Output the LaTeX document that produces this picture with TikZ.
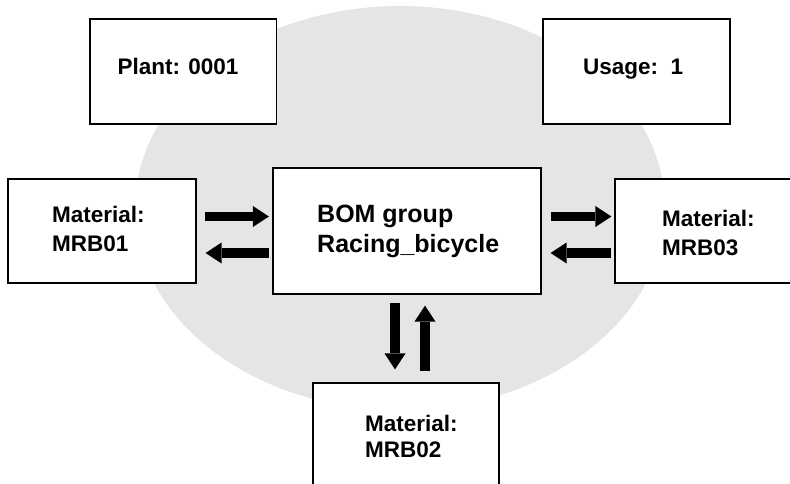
\documentclass[tikz,border=0pt]{standalone}
\usepackage{fontspec}
\setmainfont{Liberation Sans}
\usetikzlibrary{arrows.meta}
\begin{document}
\begin{tikzpicture}[x=1pt,y=-1pt,
  box/.style={draw=black, line width=1.2pt, fill=white, rectangle, inner sep=0pt},
  lbl/.style={anchor=base west, inner sep=0pt, font=\fontsize{22.5}{27}\selectfont\bfseries},
  biglbl/.style={anchor=base west, inner sep=0pt, font=\fontsize{25}{30}\selectfont\bfseries},
  fat/.style={line width=9.5pt, -{Triangle[length=16pt,width=21pt,line width=0pt]}}]
\useasboundingbox (0,0) rectangle (790,483);
\clip (0,0) rectangle (790,483);
% background ellipse
\fill[gray!20] (400,208) ellipse [x radius=265, y radius=202];
% boxes
\node[box, minimum width=186.5pt, minimum height=105pt] (P) at (183.3,71.5) {};
\node[box, minimum width=187pt, minimum height=105pt] (U) at (636.5,71.5) {};
\node[box, minimum width=188pt, minimum height=104pt] (L) at (102,231) {};
\node[box, minimum width=268pt, minimum height=126pt] (M) at (407,231) {};
\node[box, minimum width=188pt, minimum height=104pt] (R) at (709,231) {};
\node[box, minimum width=186pt, minimum height=106pt] (B) at (406,436) {};
% texts
\node[lbl] (Pt) at (117.3,74) {Plant: 0001};
\node[lbl] (Ut) at (583,74) {Usage:\ \ 1};
\node[lbl] (Lt1) at (52,222.7) {Material:};
\node[lbl] (Lt2) at (52,251) {MRB01};
\node[biglbl] (Mt1) at (317,222) {BOM group};
\node[biglbl] (Mt2) at (317,252) {Racing\_bicycle};
\node[lbl] (Rt1) at (662,226.7) {Material:};
\node[lbl] (Rt2) at (662,255) {MRB03};
\node[lbl] (Bt1) at (365,431.7) {Material:};
\node[lbl] (Bt2) at (365,457.3) {MRB02};
% arrows left
\draw[fat, shorten <=8pt, shorten >=3.5pt] ([yshift=14.5pt]L.east) -- ([yshift=14.5pt]M.west);
\draw[fat, shorten <=3.5pt, shorten >=9pt] ([yshift=-22pt]M.west) -- ([yshift=-22pt]L.east);
% arrows right
\draw[fat, shorten <=9pt, shorten >=3pt] ([yshift=14.5pt]M.east) -- ([yshift=14.5pt]R.west);
\draw[fat, shorten <=3pt, shorten >=9pt] ([yshift=-22pt]R.west) -- ([yshift=-22pt]M.east);
% arrows vertical
\draw[fat, shorten <=8pt, shorten >=13pt] ([xshift=-12pt]M.south) -- ([xshift=-12pt]M.south |- B.north);
\draw[fat, shorten <=11pt, shorten >=11pt] ([xshift=19pt]B.north) -- ([xshift=19pt]B.north |- M.south);
\end{tikzpicture}
\end{document}
